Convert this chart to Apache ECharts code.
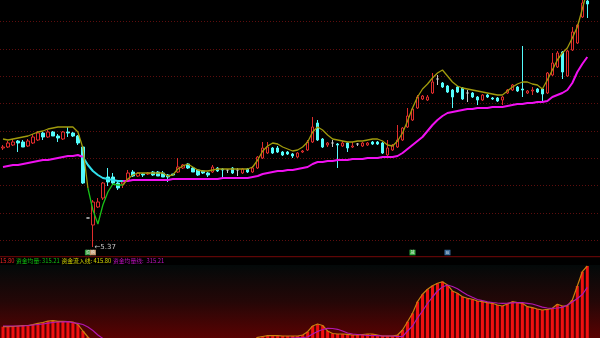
<!DOCTYPE html>
<html><head><meta charset="utf-8">
<script src="https://cdn.jsdelivr.net/npm/echarts@6/dist/echarts.min.js"></script>
<style>html,body{margin:0;padding:0;background:#000;}#c{width:600px;height:338px;}</style>
</head><body><div id="c"></div>
<script>
// ---- price panel (K-line) ----
const opens = [6.36,6.37,6.39,6.43,6.42,6.38,6.41,6.44,6.51,6.47,6.52,6.48,6.45,6.52,6.51,6.48,6.37,5.66,5.59,5.77,5.86,6.07,6.07,6.01,6.00,6.04,6.12,6.08,6.10,6.10,6.12,6.12,6.11,6.09,6.10,6.12,6.16,6.20,6.16,6.14,6.13,6.11,6.12,6.16,6.15,6.14,6.16,6.14,6.11,6.15,6.12,6.16,6.26,6.31,6.36,6.36,6.32,6.32,6.30,6.27,6.32,6.34,6.42,6.61,6.45,6.39,6.41,6.40,6.38,6.41,6.37,6.40,6.38,6.39,6.42,6.42,6.41,6.29,6.34,6.37,6.44,6.57,6.64,6.76,6.85,6.84,6.91,7.05,7.01,6.98,6.94,6.97,6.96,6.91,6.91,6.87,6.84,6.89,6.86,6.86,6.84,6.91,6.94,6.97,6.95,6.91,6.93,6.95,6.95,6.91,7.09,7.17,7.32,7.08,7.34,7.41,7.67,7.83];
const closes = [6.37,6.41,6.42,6.41,6.37,6.43,6.47,6.51,6.47,6.52,6.48,6.46,6.52,6.51,6.48,6.41,6.01,5.66,5.82,5.82,6.01,6.02,6.01,5.96,6.02,6.11,6.08,6.11,6.09,6.11,6.09,6.08,6.07,6.07,6.09,6.17,6.19,6.16,6.12,6.09,6.11,6.09,6.17,6.13,6.14,6.14,6.11,6.14,6.15,6.12,6.16,6.27,6.36,6.37,6.31,6.32,6.29,6.30,6.28,6.31,6.33,6.42,6.57,6.44,6.37,6.41,6.41,6.39,6.41,6.36,6.38,6.40,6.41,6.41,6.40,6.40,6.31,6.36,6.39,6.44,6.56,6.68,6.75,6.87,6.88,6.87,7.02,7.05,6.97,6.92,6.87,6.92,6.85,6.91,6.87,6.84,6.89,6.87,6.85,6.83,6.87,6.94,6.99,6.93,6.94,6.93,6.94,6.92,6.90,7.11,7.21,7.31,7.12,7.33,7.52,7.59,7.81,7.80];
const lows = [6.34,6.36,6.38,6.32,6.37,6.37,6.40,6.43,6.44,6.46,6.48,6.42,6.44,6.47,6.47,6.39,6.00,5.66,5.37,5.76,5.84,5.98,5.99,5.94,5.96,6.03,6.07,6.07,6.07,6.09,6.08,6.08,6.07,6.02,6.08,6.11,6.15,6.15,6.12,6.08,6.10,6.07,6.11,6.12,6.07,6.11,6.10,6.08,6.10,6.11,6.11,6.15,6.25,6.30,6.30,6.31,6.28,6.29,6.26,6.26,6.31,6.33,6.41,6.43,6.36,6.37,6.37,6.16,6.37,6.32,6.36,6.38,6.37,6.38,6.39,6.39,6.30,6.28,6.33,6.36,6.43,6.56,6.63,6.75,6.84,6.83,6.90,6.99,6.96,6.91,6.76,6.91,6.84,6.82,6.86,6.79,6.83,6.86,6.84,6.82,6.79,6.90,6.93,6.92,6.87,6.90,6.89,6.91,6.82,6.90,7.08,7.16,7.05,7.07,7.33,7.40,7.66,7.66];
const highs = [6.39,6.43,6.45,6.44,6.44,6.45,6.50,6.53,6.52,6.54,6.53,6.50,6.53,6.57,6.52,6.49,6.38,5.66,5.84,5.86,6.02,6.16,6.11,6.03,6.04,6.14,6.14,6.12,6.11,6.12,6.13,6.13,6.13,6.10,6.10,6.26,6.20,6.21,6.17,6.15,6.14,6.12,6.19,6.17,6.16,6.15,6.17,6.16,6.16,6.16,6.18,6.28,6.42,6.42,6.37,6.38,6.33,6.33,6.31,6.32,6.34,6.44,6.67,6.64,6.46,6.42,6.44,6.41,6.43,6.42,6.42,6.41,6.42,6.42,6.43,6.43,6.42,6.44,6.40,6.59,6.57,6.76,6.76,6.89,6.89,6.89,7.11,7.09,7.02,6.99,6.95,6.98,6.97,6.94,6.92,6.88,6.90,6.90,6.87,6.87,6.88,6.95,7.00,6.98,7.38,6.94,6.97,6.96,6.96,7.12,7.31,7.33,7.33,7.34,7.57,7.60,7.84,7.86];
// short average line (olive / green when collapsing)
const fastLine = [6.45,6.44,6.45,6.46,6.47,6.48,6.50,6.52,6.53,6.55,6.56,6.57,6.57,6.57,6.57,6.52,6.36,5.96,5.74,5.60,5.79,5.92,6.00,5.99,5.99,6.05,6.09,6.11,6.11,6.11,6.11,6.11,6.11,6.08,6.09,6.15,6.18,6.20,6.17,6.14,6.13,6.13,6.14,6.15,6.15,6.15,6.15,6.15,6.15,6.15,6.17,6.24,6.33,6.38,6.41,6.40,6.37,6.35,6.33,6.34,6.37,6.42,6.52,6.57,6.54,6.49,6.45,6.44,6.43,6.42,6.42,6.43,6.43,6.44,6.45,6.45,6.43,6.39,6.38,6.43,6.51,6.63,6.76,6.87,6.95,7.00,7.06,7.11,7.14,7.08,7.02,6.98,6.96,6.95,6.94,6.93,6.92,6.91,6.90,6.89,6.89,6.93,6.97,7.00,7.02,7.02,7.00,6.99,6.95,7.04,7.14,7.24,7.31,7.36,7.46,7.57,7.75,7.94];
// slow average line (magenta / cyan when falling)
const slowLine = [6.17,6.18,6.19,6.19,6.20,6.21,6.22,6.23,6.24,6.24,6.25,6.26,6.27,6.28,6.28,6.29,6.27,6.19,6.13,6.09,6.06,6.05,6.04,6.03,6.03,6.03,6.04,6.04,6.04,6.04,6.04,6.04,6.04,6.04,6.05,6.05,6.05,6.05,6.05,6.05,6.05,6.05,6.05,6.05,6.06,6.06,6.06,6.06,6.06,6.06,6.07,6.08,6.10,6.11,6.12,6.13,6.13,6.14,6.14,6.15,6.16,6.17,6.20,6.22,6.22,6.23,6.23,6.24,6.24,6.24,6.25,6.25,6.25,6.26,6.26,6.26,6.27,6.27,6.27,6.28,6.31,6.35,6.39,6.43,6.47,6.53,6.59,6.64,6.68,6.71,6.72,6.73,6.74,6.75,6.75,6.76,6.76,6.76,6.77,6.77,6.77,6.78,6.79,6.80,6.80,6.81,6.81,6.82,6.82,6.83,6.87,6.89,6.91,6.94,7.01,7.12,7.20,7.27];
// ---- indicator panel ----
const fundFlow = [129.3,129.3,130.3,132.6,135.0,135.0,138.8,145.4,149.2,156.2,157.6,154.8,154.8,153.9,151.5,139.7,109.0,80.7,52.4,45.0,41.3,40.5,39.8,38.6,38.0,39.2,40.1,39.5,38.7,38.2,37.6,37.0,36.5,36.1,36.8,39.4,41.7,42.3,41.0,40.2,40.8,41.5,43.0,44.1,45.3,46.0,46.8,47.5,48.9,52.0,60.5,79.3,83.1,86.8,86.8,86.8,85.4,85.4,85.4,85.4,90.2,105.7,132.6,142.1,135.0,109.0,97.2,94.9,94.9,93.5,90.2,90.2,92.5,94.9,94.9,90.2,85.4,85.4,85.4,90.2,113.8,152.9,192.6,247.3,282.3,305.9,322.8,334.2,341.7,326.2,297.8,287.0,270.9,263.4,258.7,250.6,247.3,242.6,239.8,231.8,227.0,236.5,247.3,242.6,239.8,223.7,219.0,212.9,208.2,211.5,216.2,235.1,227.0,227.0,255.4,321.4,388.9,415.80];
const fundAvg = [132.6,132.6,132.6,132.6,133.6,135.0,137.4,139.7,142.1,145.8,149.2,151.5,152.5,152.9,148.2,145.4,139.7,127.9,111.4,90.2,73.6,65.0,57.1,50.3,45.2,41.6,40.0,39.5,39.2,39.0,38.8,38.6,38.4,38.2,38.0,38.1,38.4,38.8,39.1,39.4,39.6,39.9,40.3,40.8,41.4,42.1,42.8,43.6,44.5,45.6,47.5,51.2,55.4,59.8,64.0,67.8,71.0,73.5,75.4,77.0,78.4,80.7,94.9,106.7,116.1,121.8,120.8,117.1,109.0,99.6,94.9,92.5,90.2,87.8,87.8,86.8,85.4,85.4,85.4,83.1,82.1,109.0,132.6,170.4,203.4,238.8,269.5,297.8,316.7,326.2,319.1,308.7,293.1,279.0,268.1,257.7,252.0,246.9,243.6,241.2,239.8,240.2,242.1,242.6,242.6,239.8,236.5,229.4,221.4,217.6,216.2,217.6,220.4,231.8,245.9,262.4,281.3,315.21];
const days = closes.map((_, i) => 'D' + (i + 1));
const legendItems = [
  {x: 0, text: '15.80', color: '#ee2222'},
  {x: 16, text: '资金均量:', color: '#10c010'},
  {x: 42, text: '315.21', color: '#10c010'},
  {x: 61.5, text: '资金流入线:', color: '#d8d800'},
  {x: 93.5, text: '415.80', color: '#d8d800'},
  {x: 113, text: '资金均量线:', color: '#c010c0'},
  {x: 146.5, text: '315.21', color: '#c010c0'}
];
const signals = [
  {i: 17, text: '资', bg: '#2e9a3a'},
  {i: 18, text: '购', bg: '#c89870'},
  {i: 82, text: '减', bg: '#2fa83a'},
  {i: 89, text: 'B', bg: '#3a6a9a'}
];

const UP = '#e02c2c', DOWN = '#54fcfc', DOJI = '#c8c8c8';
const kData = opens.map((o, i) => {
  const v = [o, closes[i], lows[i], highs[i]];
  if (o === closes[i]) return {value: v, itemStyle: {color: DOJI, color0: DOJI, borderColor: DOJI, borderColor0: DOJI}};
  return v;
});
const fastMain = fastLine.map((v, i) => (i <= 17 || i >= 24) ? v : null);
const fastDrop = fastLine.map((v, i) => (i >= 17 && i <= 24) ? v : null);
const slowMain = slowLine.map((v, i) => (i <= 16 || i >= 24) ? v : null);
const slowDrop = slowLine.map((v, i) => (i >= 16 && i <= 24) ? v : null);
const lowIdx = lows.indexOf(Math.min(...lows));
const signalY = 5.315;

const chart = echarts.init(document.getElementById('c'), null, {renderer: 'canvas'});
const hiddenCat = (gi) => ({type: 'category', gridIndex: gi, data: days, boundaryGap: true, show: false});
chart.setOption({
  animation: false,
  backgroundColor: '#000',
  grid: [
    {left: 0.5, width: 589.3, top: 0, height: 256},
    {left: 0.5, width: 589.3, top: 265, height: 73},
    {left: 0, right: 0, top: 21.7, height: 218.4}
  ],
  xAxis: [hiddenCat(0), hiddenCat(1), {type: 'value', gridIndex: 2, show: false, min: 0, max: 1}],
  yAxis: [
    {type: 'value', gridIndex: 0, min: 5.28, max: 7.84, show: false, splitLine: {show: false}},
    {type: 'value', gridIndex: 1, min: 76, max: 420.5, show: false, splitLine: {show: false}},
    {type: 'value', gridIndex: 2, min: 0, max: 8, interval: 1, axisLine: {show: false}, axisTick: {show: false}, axisLabel: {show: false},
     splitLine: {show: true, lineStyle: {color: '#5e0e0e', width: 1, type: [1, 2]}}}
  ],
  graphic: [
    {type: 'rect', shape: {x: 0, y: 265, width: 600, height: 73}, z: -10,
     style: {fill: {type: 'linear', x: 0, y: 0, x2: 0, y2: 1, colorStops: [{offset: 0, color: '#030909'}, {offset: 0.5, color: '#240707'}, {offset: 1, color: '#5a0202'}]}}},
    {type: 'rect', shape: {x: 0, y: 256, width: 600, height: 1.3}, z: -5, style: {fill: '#5e0606'}},
    ...legendItems.map(t => ({type: 'text', x: t.x, y: 260.5, z: 10,
      style: {text: t.text, fill: t.color, font: '5.8px "Noto Sans CJK SC"', verticalAlign: 'middle'}}))
  ],
  series: [
    {type: 'candlestick', xAxisIndex: 0, yAxisIndex: 0, data: kData, barWidth: 3,
     itemStyle: {color: '#000', color0: DOWN, borderColor: UP, borderColor0: DOWN, borderWidth: 1},
     markPoint: {
       symbol: 'circle', symbolSize: 1, itemStyle: {color: 'rgba(0,0,0,0)'},
       data: [
         {coord: [lowIdx, lows[lowIdx]], value: lows[lowIdx],
          label: {show: true, position: 'right', distance: 1, formatter: '←' + lows[lowIdx].toFixed(2), color: '#c8c8c8', fontSize: 7, fontFamily: 'DejaVu Sans'}},
         ...signals.map(s => ({coord: [s.i, signalY], symbol: 'rect', symbolSize: [6, 5.5],
           itemStyle: {color: s.bg},
           label: {show: true, position: 'inside', formatter: s.text, color: '#e8f0e8', fontSize: 4, fontFamily: 'Noto Sans CJK SC'}}))
       ]
     }},
    {type: 'line', xAxisIndex: 0, yAxisIndex: 0, data: slowMain, symbol: 'none', lineStyle: {color: '#f010f0', width: 2}, z: 3},
    {type: 'line', xAxisIndex: 0, yAxisIndex: 0, data: slowDrop, symbol: 'none', lineStyle: {color: '#30e0ec', width: 2}, z: 3},
    {type: 'line', xAxisIndex: 0, yAxisIndex: 0, data: fastMain, symbol: 'none', lineStyle: {color: '#a09a0c', width: 1.3}, z: 4},
    {type: 'line', xAxisIndex: 0, yAxisIndex: 0, data: fastDrop, symbol: 'none', lineStyle: {color: '#18c018', width: 1.3}, z: 4},
    {type: 'bar', xAxisIndex: 1, yAxisIndex: 1, data: fundFlow, barWidth: 3, itemStyle: {color: '#f01010'}},
    {type: 'line', xAxisIndex: 1, yAxisIndex: 1, data: fundFlow, symbol: 'none', lineStyle: {color: '#c88010', width: 1.2}, z: 4},
    {type: 'line', xAxisIndex: 1, yAxisIndex: 1, data: fundAvg, symbol: 'none', lineStyle: {color: '#b018b0', width: 1.2}, z: 5}
  ]
});
</script></body></html>
